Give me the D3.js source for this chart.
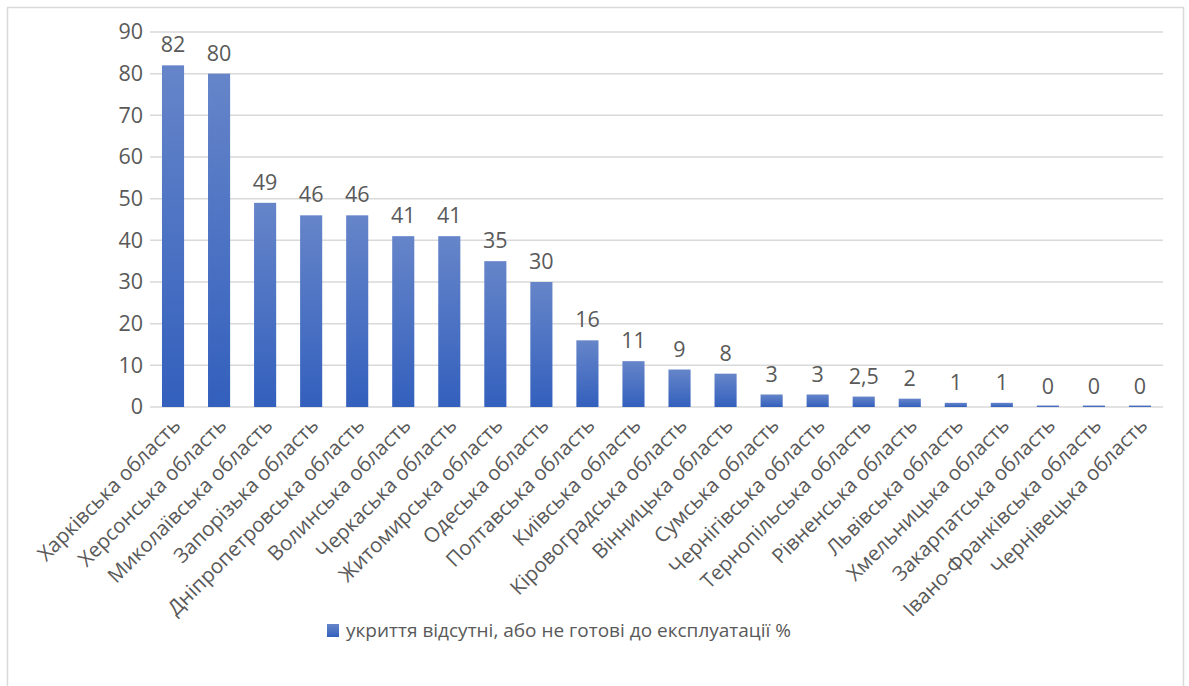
<!DOCTYPE html>
<html>
<head>
<meta charset="utf-8">
<script src="https://cdn.jsdelivr.net/npm/d3@7"></script>
<style>
  body { margin: 0; background: #fff; }
  text { font-family: "Open Sans", sans-serif; fill: #595959; }
</style>
</head>
<body>
<svg id="chart"></svg>
<script>
const regions = [
  'Харківська область', 'Херсонська область', 'Миколаївська область', 'Запорізька область',
  'Дніпропетровська область', 'Волинська область', 'Черкаська область', 'Житомирська область',
  'Одеська область', 'Полтавська область', 'Київська область', 'Кіровоградська область',
  'Вінницька область', 'Сумська область', 'Чернігівська область', 'Тернопільська область',
  'Рівненська область', 'Львівська область', 'Хмельницька область', 'Закарпатська область',
  'Івано-Франківська область', 'Чернівецька область'
];
const values = [82, 80, 49, 46, 46, 41, 41, 35, 30, 16, 11, 9, 8, 3, 3, 2.5, 2, 1, 1, 0, 0, 0];
const yTicks = [0, 10, 20, 30, 40, 50, 60, 70, 80, 90];
const seriesName = 'укриття відсутні, або не готові до експлуатації %';

const W = 1189, H = 686;
const margin = { top: 32, right: 26, bottom: 279, left: 150 };

const svg = d3.select('#chart').attr('width', W).attr('height', H);

// chart frame
svg.append('rect')
  .attr('x', 7.5).attr('y', 7.5)
  .attr('width', 1176).attr('height', 690)
  .attr('fill', '#fff').attr('stroke', '#d9d9d9').attr('stroke-width', 1.5);

const defs = svg.append('defs');
const grad = defs.append('linearGradient')
  .attr('id', 'barGrad').attr('x1', 0).attr('y1', 0).attr('x2', 0).attr('y2', 1);
grad.append('stop').attr('offset', '0%').attr('stop-color', '#6685c9');
grad.append('stop').attr('offset', '100%').attr('stop-color', '#3360bd');

const x = d3.scaleBand()
  .domain(regions)
  .range([margin.left, W - margin.right])
  .paddingInner(0.52).paddingOuter(0.26);

const y = d3.scaleLinear()
  .domain([0, 90])
  .range([H - margin.bottom, margin.top]);

// gridlines
svg.append('g')
  .selectAll('line')
  .data(yTicks)
  .enter()
  .append('line')
  .attr('x1', margin.left).attr('x2', W - margin.right)
  .attr('y1', d => y(d)).attr('y2', d => y(d))
  .attr('stroke', '#d9d9d9').attr('stroke-width', 1.5);

// y axis labels
const yAxis = svg.append('g')
  .attr('transform', `translate(${margin.left},0)`)
  .call(d3.axisLeft(y).tickValues(yTicks).tickSize(0).tickPadding(7));
yAxis.select('.domain').remove();
yAxis.selectAll('text')
  .attr('font-size', 21.5)
  .attr('font-family', '"Open Sans", sans-serif')
  .attr('fill', '#595959');

// bars
svg.append('g')
  .selectAll('rect')
  .data(values)
  .enter()
  .append('rect')
  .attr('x', (d, i) => x(regions[i]))
  .attr('width', x.bandwidth())
  .attr('y', d => Math.min(y(d), y(0) - 1.5))
  .attr('height', d => Math.max(y(0) - y(d), 1.5))
  .attr('fill', 'url(#barGrad)');

// data labels
svg.append('g')
  .selectAll('text')
  .data(values)
  .enter()
  .append('text')
  .attr('x', (d, i) => x(regions[i]) + x.bandwidth() / 2)
  .attr('y', d => y(d) - 13)
  .attr('text-anchor', 'middle')
  .attr('font-size', 21.5)
  .text(d => String(d).replace('.', ','));

// category labels
svg.append('g')
  .selectAll('text')
  .data(regions)
  .enter()
  .append('text')
  .attr('transform', d => `translate(${x(d) + x.bandwidth() / 2},${y(0) + 11}) rotate(-45)`)
  .attr('text-anchor', 'end')
  .attr('dy', '0.6em')
  .attr('font-size', 20.5)
  .text(d => d);

// legend
const legend = svg.append('g').attr('transform', 'translate(327,624)');
legend.append('rect')
  .attr('width', 12).attr('height', 13)
  .attr('fill', 'url(#barGrad)');
legend.append('text')
  .attr('x', 19).attr('y', 6.5)
  .attr('dy', '0.35em')
  .attr('font-size', 19)
  .text(seriesName);
</script>
</body>
</html>
